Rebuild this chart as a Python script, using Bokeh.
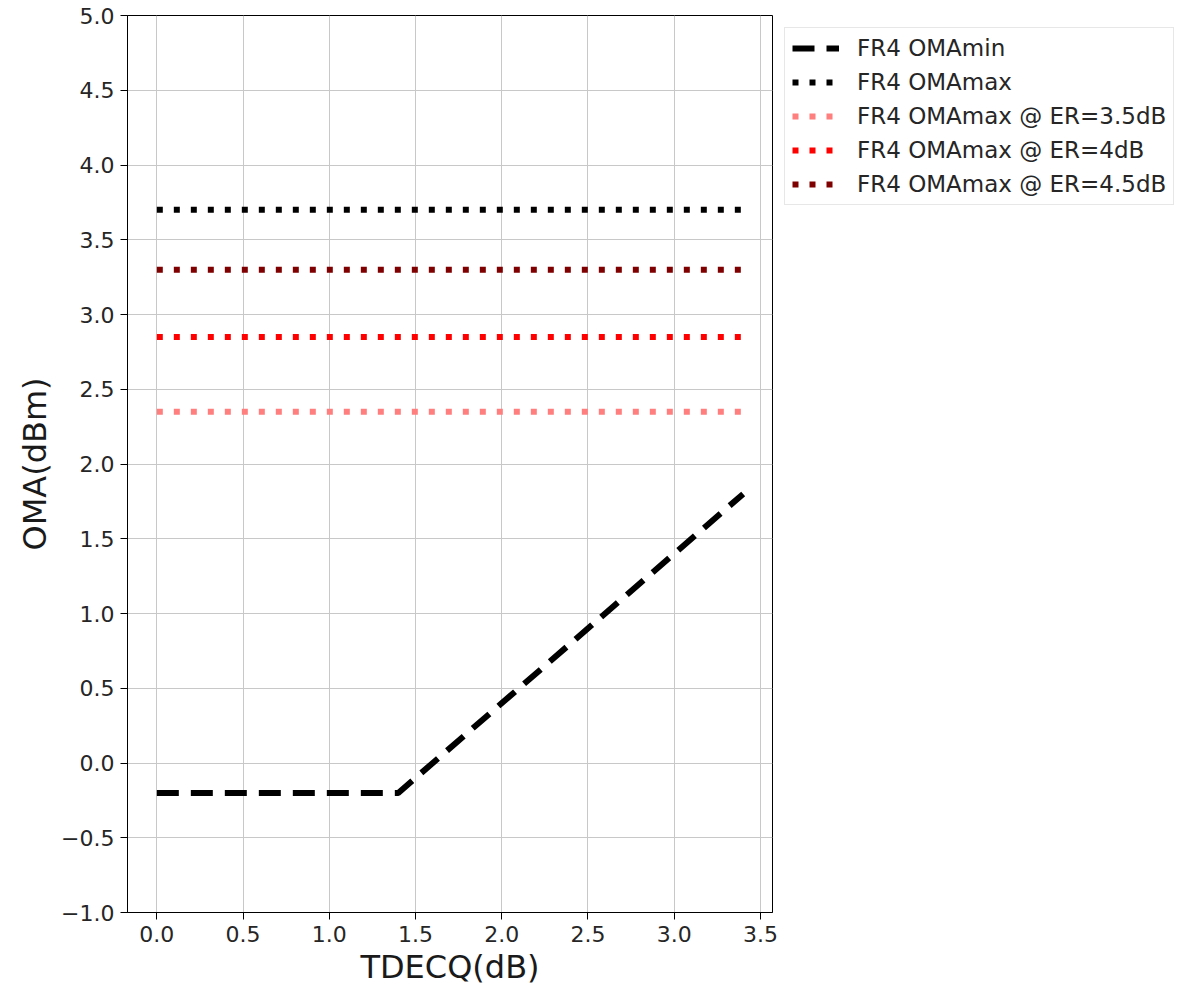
from bokeh.plotting import figure
from bokeh.models import (Range1d, FixedTicker, CustomJSTickFormatter, Legend, LegendItem)
from bokeh.embed import file_html
from bokeh.resources import INLINE

# Data
tdecq_min = [0.0, 1.4, 3.4]
oma_min = [-0.2, -0.2, 1.8]
tdecq_span = [0.0, 3.4]
oma_max = [3.7, 3.7]
oma_max_er35 = [2.35, 2.35]
oma_max_er4 = [2.85, 2.85]
oma_max_er45 = [3.3, 3.3]
x_ticks = [0.0, 0.5, 1.0, 1.5, 2.0, 2.5, 3.0, 3.5]
y_ticks = [-1.0, -0.5, 0.0, 0.5, 1.0, 1.5, 2.0, 2.5, 3.0, 3.5, 4.0, 4.5, 5.0]

p = figure(frame_width=645, frame_height=897, output_backend="svg", toolbar_location=None,
           x_range=Range1d(-0.17, 3.57), y_range=Range1d(-1, 5),
           min_border_left=127, min_border_top=15, min_border_bottom=72,
           min_border_right=0)
p.background_fill_color = "white"
p.border_fill_color = "white"
p.outline_line_color = "black"
p.outline_line_width = 1

fmt = CustomJSTickFormatter(code="return tick.toFixed(1).replace('-', '\u2212');")
for ax, ticks in ((p.xaxis[0], x_ticks), (p.yaxis[0], y_ticks)):
    ax.ticker = FixedTicker(ticks=ticks)
    ax.formatter = fmt
    ax.major_label_text_font = "DejaVu Sans"
    ax.major_label_text_font_size = "22px"
    ax.major_label_text_color = "#262626"
    ax.axis_label_text_font = "DejaVu Sans"
    ax.axis_label_text_font_size = "32px"
    ax.axis_label_text_font_style = "normal"
    ax.axis_label_text_color = "#1a1a1a"
    ax.axis_line_color = "black"
    ax.major_tick_line_color = "black"
    ax.major_tick_out = 7
    ax.major_tick_in = 0
    ax.minor_tick_line_color = None
p.xaxis.axis_label = "TDECQ(dB)"
p.yaxis.axis_label = "OMA(dBm)"
p.xaxis.major_label_standoff = 6
p.yaxis.major_label_standoff = 6
p.xaxis.axis_label_standoff = 3
p.yaxis.axis_label_standoff = 4

p.grid.grid_line_color = "#c8c8c8"
p.grid.grid_line_width = 1
p.xgrid.ticker = FixedTicker(ticks=x_ticks)
p.ygrid.ticker = FixedTicker(ticks=y_ticks)

r1 = p.line(tdecq_min, oma_min, line_color="black", line_width=6, line_dash="22 12")
r2 = p.line(tdecq_span, oma_max, line_color="black", line_width=6, line_dash="6 11")
r3 = p.line(tdecq_span, oma_max_er35, line_color="#ff7f7f", line_width=6, line_dash="6 11")
r4 = p.line(tdecq_span, oma_max_er4, line_color="#ff0000", line_width=6, line_dash="6 11")
r5 = p.line(tdecq_span, oma_max_er45, line_color="#7f0000", line_width=6, line_dash="6 11")

legend = Legend(items=[
    LegendItem(label="FR4 OMAmin", renderers=[r1]),
    LegendItem(label="FR4 OMAmax", renderers=[r2]),
    LegendItem(label="FR4 OMAmax @ ER=3.5dB", renderers=[r3]),
    LegendItem(label="FR4 OMAmax @ ER=4dB", renderers=[r4]),
    LegendItem(label="FR4 OMAmax @ ER=4.5dB", renderers=[r5]),
], location="top_left")
legend.label_text_font = "DejaVu Sans"
legend.label_text_font_size = "23px"
legend.label_text_color = "#262626"
legend.glyph_width = 47
legend.glyph_height = 26
legend.spacing = 8
legend.padding = 7
legend.margin = 12
legend.label_standoff = 18
legend.border_line_color = "#d0d0d0"
legend.border_line_width = 1
legend.background_fill_alpha = 1
p.add_layout(legend, "right")

open("out.html", "w").write(file_html(p, INLINE))
